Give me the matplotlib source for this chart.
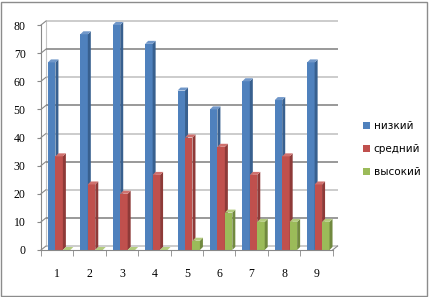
import matplotlib
matplotlib.use("Agg")
import matplotlib.pyplot as plt
from matplotlib.patches import Polygon, Patch, Rectangle
import numpy as np

categories = ["1", "2", "3", "4", "5", "6", "7", "8", "9"]
series_names = ["низкий", "средний", "высокий"]
low = [66.7, 76.7, 80.0, 73.3, 56.7, 50.0, 60.0, 53.3, 66.7]
mid = [33.3, 23.3, 20.0, 26.7, 40.0, 36.7, 26.7, 33.3, 23.3]
high = [0.0, 0.0, 0.0, 0.0, 3.3, 13.3, 10.0, 10.0, 10.0]
y_ticks = [0, 10, 20, 30, 40, 50, 60, 70, 80]

front_colors = ["#4F81BD", "#C0504D", "#9BBB59"]
side_colors = ["#38608F", "#8E3A38", "#71893F"]
top_colors = ["#7097C9", "#D0716E", "#B3CC7E"]

fig = plt.figure(figsize=(4.29, 2.97), dpi=100)
fig.patch.set_facecolor("white")
fig.add_artist(Rectangle((0.002, 0.004), 0.994, 0.99, transform=fig.transFigure,
                         fill=False, edgecolor="#8c8c8c", linewidth=1.0))

ax = fig.add_axes([41 / 429, 47 / 297, (345 - 41) / 429, (272 - 47) / 297])
xmax = 0.5 + (345 - 41) / 32.4
ax.set_xlim(0.5, xmax)
ax.set_ylim(0, 80)
ax.patch.set_alpha(0)

px_x = 1 / 32.4            # data units per pixel (x)
px_y = 80 / 225            # data units per pixel (y)
ddx, ddy = 5 * px_x, 4 * px_y   # wall depth

# back wall gridlines
for v in y_ticks:
    col = "#888888" if (v // 10) % 2 == 1 else "#c4c4c4"
    ax.plot([0.5 + ddx, 9.5 + ddx], [v + ddy, v + ddy], color=col, lw=1.2,
            zorder=0.5, clip_on=False, solid_capstyle="butt")
    ax.plot([0.5, 0.5 + ddx], [v, v + ddy], color="#888888", lw=0.8,
            zorder=0.6, clip_on=False)
# back wall left edge and floor
ax.plot([0.5 + ddx, 0.5 + ddx], [ddy, 80 + ddy], color="#c4c4c4", lw=0.8, zorder=0.4, clip_on=False)
ax.plot([9.5, 9.5 + ddx], [0, ddy], color="#888888", lw=0.8, zorder=0.6, clip_on=False)

offsets = [-0.17, 0.06, 0.29]
w = 0.23
bdx, bdy = 3 * px_x, 3 * px_y
x = np.arange(1, len(categories) + 1)
series = [low, mid, high]
for i in range(len(categories)):
    for s, vals in enumerate(series):
        h = vals[i]
        xc = x[i] + offsets[s]
        xl, xr = xc - w / 2, xc + w / 2
        z = 2 + i * 0.01 + s * 0.001
        ax.bar(xc, h, width=w, color=front_colors[s], linewidth=0, zorder=z, clip_on=False)
        ax.add_patch(Polygon([(xr, 0), (xr + bdx, bdy), (xr + bdx, h + bdy), (xr, h)],
                             closed=True, facecolor=side_colors[s], linewidth=0, zorder=z,
                             clip_on=False))
        ax.add_patch(Polygon([(xl, h), (xl + bdx, h + bdy), (xr + bdx, h + bdy), (xr, h)],
                             closed=True, facecolor=top_colors[s], linewidth=0, zorder=z,
                             clip_on=False))

for sp in ["top", "right"]:
    ax.spines[sp].set_visible(False)
ax.spines["left"].set_color("#888888")
ax.spines["bottom"].set_color("#888888")
ax.spines["bottom"].set_bounds(0.5, 9.5)

ax.set_yticks(y_ticks)
ax.set_yticklabels([str(v) for v in y_ticks], fontsize=8.5, family="Liberation Serif")
ax.tick_params(axis="y", length=3, color="#888888", pad=8)
ax.set_xticks(x)
ax.set_xticklabels(categories, fontsize=8.5, family="Liberation Serif")
ax.set_xticks(np.arange(0.5, 9.6, 1.0), minor=True)
ax.tick_params(axis="x", which="major", length=0, pad=13)
ax.tick_params(axis="x", which="minor", length=4, color="#888888")

handles = [Patch(facecolor=c, edgecolor="none") for c in front_colors]
fig.legend(handles, series_names, loc="upper left", bbox_to_anchor=(354 / 429, 1 - 112 / 297),
           frameon=False, handlelength=0.6, handleheight=0.6,
           handletextpad=0.4, labelspacing=1.25, prop={"family": "DejaVu Sans", "size": 7.5})

fig.savefig("out.png", dpi=100)
